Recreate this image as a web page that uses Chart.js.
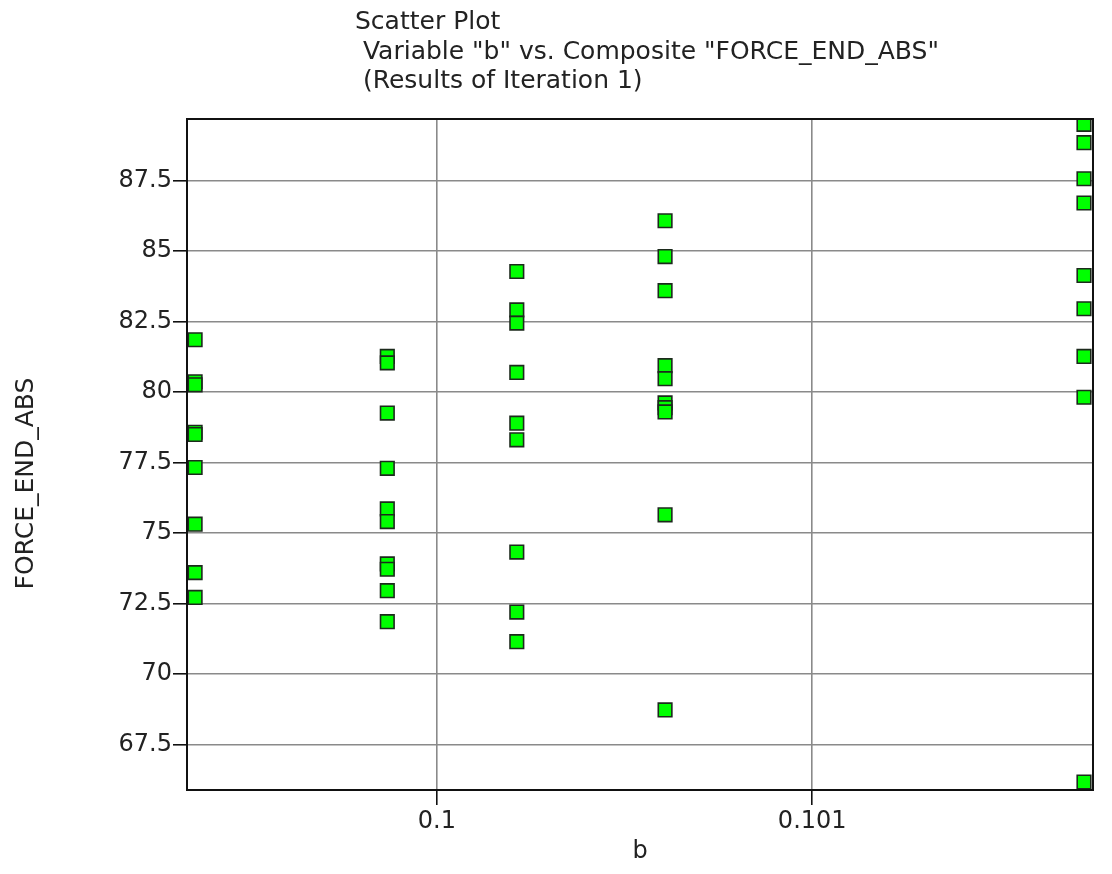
<!DOCTYPE html>
<html>
<head>
<meta charset="utf-8">
<script src="https://cdn.jsdelivr.net/npm/chart.js@4/dist/chart.umd.min.js"></script>
<style>
html,body{margin:0;padding:0;background:#fff;}
#wrap{width:1112px;height:874px;position:relative;}
</style>
</head>
<body>
<div id="wrap"><canvas id="c" width="1112" height="874"></canvas></div>
<script>
// ---- data ----
const titleLines = ['Scatter Plot', ' Variable "b" vs. Composite "FORCE_END_ABS"', ' (Results of Iteration 1)'];
const xAxisTitle = 'b';
const yAxisTitle = 'FORCE_END_ABS';
const bLevels = [0.099356, 0.099868, 0.100213, 0.100608, 0.101724];
const force1 = [81.86, 80.37, 80.26, 78.58, 78.5, 77.33, 75.32, 73.6, 72.72];
const force2 = [81.27, 81.04, 79.26, 77.3, 75.86, 75.41, 73.91, 73.72, 72.96, 71.86];
const force3 = [84.28, 82.92, 82.45, 80.7, 78.9, 78.31, 74.33, 72.2, 71.15];
const force4 = [86.08, 84.81, 83.6, 80.94, 80.48, 79.62, 79.45, 79.3, 75.65, 68.73];
const force5 = [89.5, 88.85, 87.57, 86.71, 84.14, 82.96, 81.27, 79.82, 66.17];
const xTicks = [0.1, 0.101];
const xTickLabels = ['0.1', '0.101'];
const yTicks = [67.5, 70, 72.5, 75, 77.5, 80, 82.5, 85, 87.5];
const yTickLabels = ['67.5', '70', '72.5', '75', '77.5', '80', '82.5', '85', '87.5'];
const xRange = [0.0993344, 0.101748];
const yRange = [65.89, 89.69];

// ---- build points ----
const forceGroups = [force1, force2, force3, force4, force5];
const points = [];
forceGroups.forEach((arr, i) => arr.forEach(v => points.push({x: bLevels[i], y: v})));

const FONT = 'DejaVu Sans';

const framePlugin = {
  id: 'frame',
  afterDatasetsDraw(chart) {
    const a = chart.chartArea, ctx = chart.ctx;
    ctx.save();
    ctx.strokeStyle = '#111';
    ctx.lineWidth = 2;
    ctx.strokeRect(a.left, a.top, a.right - a.left, a.bottom - a.top);
    ctx.restore();
  },
  afterDraw(chart) {
    const ctx = chart.ctx;
    ctx.save();
    ctx.fillStyle = '#222';
    ctx.font = '25px "' + FONT + '"';
    ctx.textAlign = 'left';
    ctx.textBaseline = 'alphabetic';
    titleLines.forEach((t, i) => ctx.fillText(t, 355, 29 + i * 29.5));
    // y-axis title
    ctx.translate(33, 483.5);
    ctx.rotate(-Math.PI / 2);
    ctx.textAlign = 'center';
    ctx.fillText(yAxisTitle, 0, 0);
    ctx.restore();
  }
};

new Chart(document.getElementById('c'), {
  type: 'scatter',
  data: {
    datasets: [{
      data: points,
      pointStyle: 'rect',
      pointRadius: 9.6,
      pointHoverRadius: 9.6,
      backgroundColor: '#00ff00',
      borderColor: '#1c2a1c',
      borderWidth: 1.6
    }]
  },
  options: {
    responsive: false,
    animation: false,
    events: [],
    layout: {padding: {left: 0, right: 19, top: 119, bottom: 0}},
    plugins: {legend: {display: false}, tooltip: {enabled: false}, title: {display: false}},
    scales: {
      x: {
        type: 'linear',
        min: xRange[0], max: xRange[1],
        afterBuildTicks: s => { s.ticks = xTicks.map(v => ({value: v})); },
        afterFit: s => { s.height = 84; },
        ticks: {
          callback: (v, i) => xTickLabels[i],
          color: '#222',
          font: {family: FONT, size: 24},
          padding: 2,
          maxRotation: 0, autoSkip: false
        },
        grid: {color: '#8a8a8a', lineWidth: 1.6, tickColor: '#111', tickLength: 15, drawTicks: true},
        border: {display: false},
        title: {display: true, text: xAxisTitle, color: '#222', font: {family: FONT, size: 24}, padding: {top: 0, bottom: 8}}
      },
      y: {
        type: 'linear',
        min: yRange[0], max: yRange[1],
        afterBuildTicks: s => { s.ticks = yTicks.map(v => ({value: v})); },
        afterFit: s => { s.width = 187; },
        ticks: {
          callback: (v, i) => yTickLabels[i],
          color: '#222',
          font: {family: FONT, size: 24},
          padding: 1,
          autoSkip: false
        },
        grid: {color: '#8a8a8a', lineWidth: 1.6, tickColor: '#111', tickLength: 14, drawTicks: true},
        border: {display: false}
      }
    }
  },
  plugins: [framePlugin]
});
</script>
</body>
</html>
